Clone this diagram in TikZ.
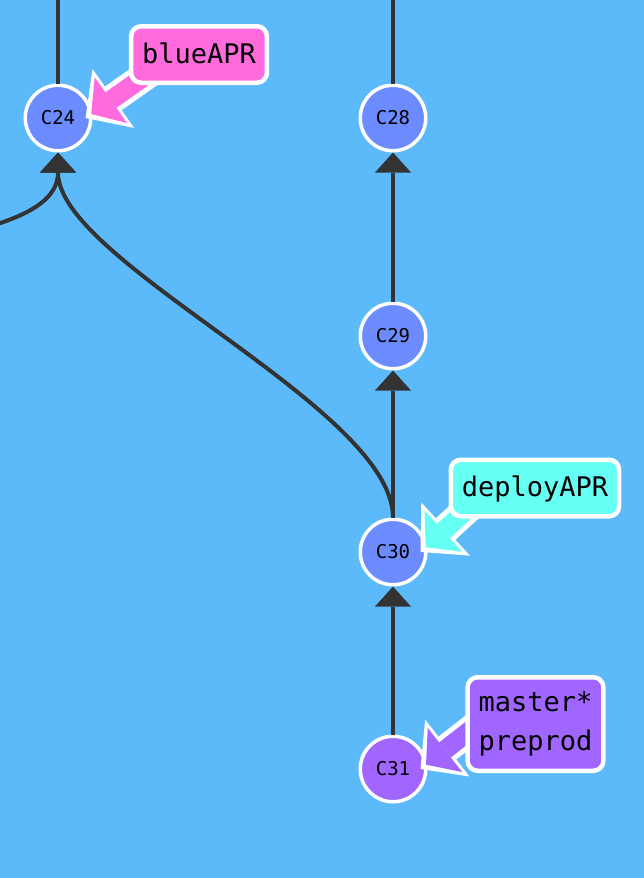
\documentclass[tikz,border=0pt]{standalone}
\usepackage{fontspec}
\setmonofont{DejaVu Sans Mono}
\usepackage{xcolor}
\usetikzlibrary{arrows.meta}

\definecolor{bgblue}{HTML}{5CBAFA}
\definecolor{commitblue}{HTML}{6B8BFF}
\definecolor{commitpurple}{HTML}{A066FF}
\definecolor{tagpink}{HTML}{FF6BDC}
\definecolor{tagcyan}{HTML}{66FFF3}
\definecolor{linegray}{HTML}{333333}

\begin{document}
\begin{tikzpicture}
				[x=1pt, y=-1pt,
				commit/.style = {circle, draw=white, line width=3.5pt, fill=commitblue, minimum size=65.5pt, inner sep=0pt, font=\ttfamily\fontsize{19}{19}\selectfont},
				plainline/.style = {draw=linegray, line width=4pt},
				parentline/.style = {plainline, -{Triangle[width=36pt,length=20pt,line width=0pt]}},
				tagbox/.style = {draw=white, line width=4.5pt, rounded corners=10pt, inner xsep=11pt, minimum height=56.5pt, font=\ttfamily\fontsize{27}{39}\selectfont, align=center},
				tagout/.style = {white, line width=29pt, -{Triangle[width=72pt,length=34pt,line width=0pt]}},
				tagin/.style = {line width=19pt, shorten >=7pt, -{Triangle[width=56pt,length=24pt,line width=0pt]}}]
				\fill[bgblue] (0,0) rectangle (644,878);
				\clip (0,0) rectangle (644,878);
				% commits
				\node[commit] (c24) at (58,118) {C24};
				\node[commit] (c28) at (393,118) {C28};
				\node[commit] (c29) at (393,336) {C29};
				\node[commit] (c30) at (393,552) {C30};
				\node[commit, fill=commitpurple] (c31) at (393,769) {C31};
				\coordinate (c24 up) at (58,-10);
				\coordinate (c28 up) at (393,-10);
				\coordinate (offleft) at (-277,340);
				\draw[plainline] (c24.north)--(c24 up);
				\draw[plainline] (c28.north)--(c28 up);
				\draw[parentline] (c29.north)--(c28.south);
				\draw[parentline] (c30.north)--(c29.south);
				\draw[parentline] (c31.north)--(c30.south);
				\draw[parentline] (c30.north) .. controls +(0,-110) and +(0,110) .. (c24.south);
				\draw[parentline] (offleft) .. controls +(0,-110) and +(0,110) .. (c24.south);
				% branch tags
				\coordinate (blueAPR tail) at (155,69);
				\coordinate (deployAPR tail) at (485,493);
				\coordinate (master tail) at (500,707);
				\draw[tagout] (blueAPR tail)--([xshift=-7pt]c24.east);
				\draw[tagin, tagpink] (blueAPR tail)--([xshift=-7pt]c24.east);
				\draw[tagout] (deployAPR tail)--([xshift=-7pt]c30.east);
				\draw[tagin, tagcyan] (deployAPR tail)--([xshift=-7pt]c30.east);
				\draw[tagout] (master tail)--([xshift=-7pt]c31.east);
				\draw[tagin, commitpurple] (master tail)--([xshift=-7pt]c31.east);
				\node[tagbox, fill=tagpink, text height=22pt, text depth=5pt] (blueAPR) at (199,54.5) {blueAPR};
				\node[tagbox, fill=tagcyan, text height=22pt, text depth=5pt] (deployAPR) at (535,488) {deployAPR};
				\node[tagbox, fill=commitpurple, minimum height=93.5pt] (master) at (535.5,724) {master*\\preprod};
			\end{tikzpicture}
\end{document}
